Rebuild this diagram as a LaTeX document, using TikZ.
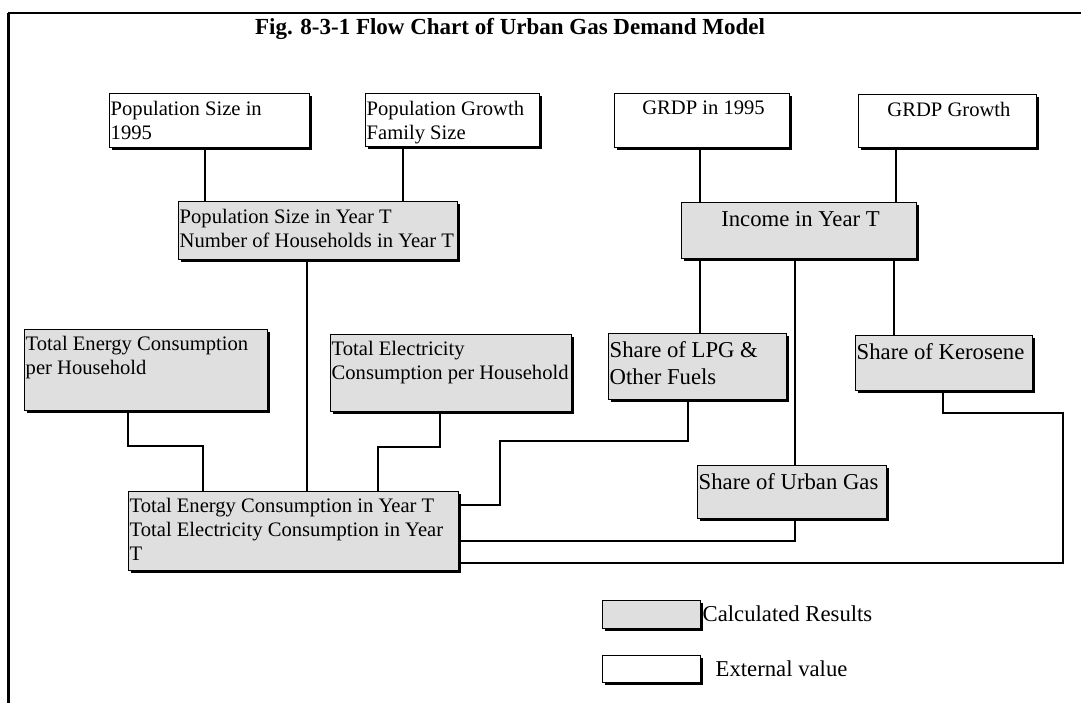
\documentclass[tikz,border=0pt]{standalone}
\usepackage{fontspec}
\setmainfont{Liberation Serif}
\usetikzlibrary{fit,shadows}
\newcommand{\smallfont}{\fontsize{20.6}{24}\selectfont}
\newcommand{\bigfont}{\fontsize{22.7}{27}\selectfont}
\newcommand{\flowbox}[9]{\node[#1,fit={(#3,#4) (#5,#6)}] (#2) {};
\node[boxtext,anchor=#7,#8] (#2-txt) at (#2.#7) {#9};}
\tikzset{
  extbox/.style={draw,line width=1pt,fill=white,inner sep=0pt,
    drop shadow={shadow xshift=2.5pt,shadow yshift=-2.5pt,fill=black,opacity=1}},
  calcbox/.style={extbox,fill=gray!25},
  boxtext/.style={align=left,inner sep=0pt},
  smalltext/.style={font=\smallfont,xshift=2pt,yshift=-7.5pt},
  bigtext/.style={font=\bigfont,xshift=2pt,yshift=-9pt},
  legtext/.style={anchor=west,inner sep=0pt,font=\bigfont},
  link/.style={line width=1.6pt}
}
\begin{document}
\begin{tikzpicture}[x=1pt,y=-1pt]
\useasboundingbox (0,0) rectangle (1081,703);
\draw[line width=1.5pt] (8,13) -- (1081,13);
\draw[line width=3pt] (8,13) -- (8,703);
\node[font=\fontsize{23}{27}\selectfont\bfseries,anchor=base] (title) at (510,35) {Fig. 8-3-1 Flow Chart of Urban Gas Demand Model};

% inputs
\flowbox{extbox}{pop95}{109}{94}{309}{148}{north west}{smalltext}{Population Size in\\1995}
\flowbox{extbox}{popgrow}{365}{94}{539}{147}{north west}{smalltext}{Population Growth\\Family Size}
\flowbox{extbox}{grdp95}{614}{94}{789}{148}{north}{smalltext}{GRDP in 1995}
\flowbox{extbox}{grdpgrow}{858}{95}{1036}{148}{north}{smalltext}{GRDP Growth}

% calculated
\flowbox{calcbox}{popT}{178}{202}{457}{260}{north west}{smalltext}{Population Size in Year T\\Number of Households in Year T}
\flowbox{calcbox}{incT}{681}{203}{916}{259}{north}{bigtext}{Income in Year T}
\flowbox{calcbox}{energyhh}{24}{329}{267}{410}{north west}{smalltext}{Total Energy Consumption\\per Household}
\flowbox{calcbox}{elechh}{330}{334}{571}{411}{north west}{smalltext}{Total Electricity\\Consumption per Household}
\flowbox{calcbox}{lpg}{608}{333}{786}{399}{north west}{bigtext}{Share of LPG \&\\Other Fuels}
\flowbox{calcbox}{kero}{855}{335}{1032}{390}{north west}{bigtext}{Share of Kerosene}
\flowbox{calcbox}{ugas}{697}{465}{886}{518}{north west}{bigtext}{Share of Urban Gas}
\flowbox{calcbox}{totT}{128}{491}{458}{570}{north west}{smalltext}{Total Energy Consumption in Year T\\Total Electricity Consumption in Year\\T}

% links
\draw[link] (205,0 |- pop95.south) -- (205,0 |- popT.north);
\draw[link] (403,0 |- popgrow.south) -- (403,0 |- popT.north);
\draw[link] (700,0 |- grdp95.south) -- (700,0 |- incT.north);
\draw[link] (896,0 |- grdpgrow.south) -- (896,0 |- incT.north);
\draw[link] (307,0 |- popT.south) -- (307,0 |- totT.north);
\draw[link] (700,0 |- incT.south) -- (700,0 |- lpg.north);
\draw[link] (795,0 |- incT.south) -- (795,0 |- ugas.north);
\draw[link] (894,0 |- incT.south) -- (894,0 |- kero.north);
\draw[link] (128,0 |- energyhh.south) |- (203,446) -- (203,0 |- totT.north);
\draw[link] (440,0 |- elechh.south) |- (378,447) -- (378,0 |- totT.north);
\draw[link] (688,0 |- lpg.south) |- (500,441) |- (totT.east |- 0,505);
\draw[link] (795,0 |- ugas.south) |- (totT.east |- 0,541);
\draw[link] (943,0 |- kero.south) |- (1063,413) |- (totT.east |- 0,563);

% key
\node[calcbox,fit={(602,600) (700,628)}] (keycalc) {};
\node[legtext,xshift=2pt] (keycalc-txt) at (keycalc.east) {Calculated Results};
\node[extbox,fit={(602,655) (700,682)}] (keyext) {};
\node[legtext,xshift=15pt] (keyext-txt) at (keyext.east) {External value};
\end{tikzpicture}
\end{document}
